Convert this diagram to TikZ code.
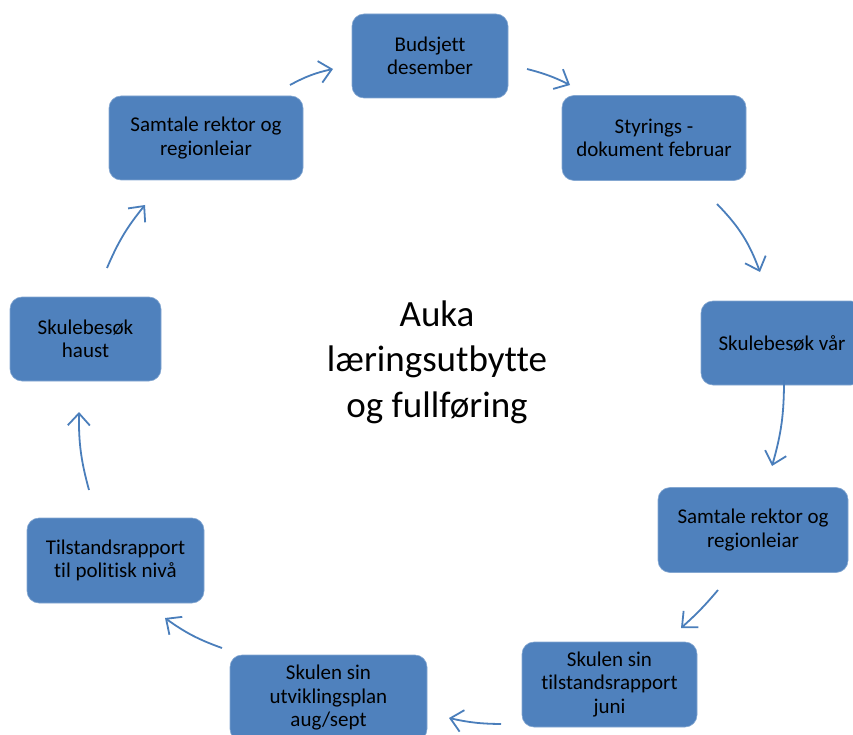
\documentclass[tikz,border=0pt]{standalone}
\usepackage{fontspec}
\setmainfont{Carlito}[Ligatures=NoCommon]
\usetikzlibrary{arrows.meta}
\definecolor{boxblue}{HTML}{4F81BD}
\definecolor{arrblue}{HTML}{4A7EBB}
\tikzset{
  stepbox/.style={draw=boxblue!70!white, line width=0.6pt, fill=boxblue, rounded corners=12pt,
    align=center, inner sep=0pt, font=\fontsize{21}{23.5}\selectfont, text=black},
  cyc/.style={draw=arrblue, line width=1.8pt, -{Straight Barb[length=12pt,width=22pt,line width=1.8pt]}},
}
\begin{document}
\begin{tikzpicture}[x=1pt,y=-1pt]
\useasboundingbox (0,0) rectangle (853,735);
\clip (0,0) rectangle (853,735);
\node[stepbox, minimum width=156pt, minimum height=84pt] (b1) at (430,56) {Budsjett\\desember};
\node[stepbox, minimum width=184pt, minimum height=85pt] (b2) at (654,138) {Styrings -\\dokument februar};
\node[stepbox, minimum width=162pt, minimum height=84pt] (b3) at (782,343) {Skulebesøk vår};
\node[stepbox, minimum width=190pt, minimum height=85pt] (b4) at (753,530) {Samtale rektor og\\regionleiar};
\node[stepbox, minimum width=175pt, minimum height=85pt] (b5) at (609.5,684.5) {Skulen sin\\tilstandsrapport\\juni};
\node[stepbox, minimum width=197pt, minimum height=86pt] (b6) at (328.5,698) {Skulen sin\\utviklingsplan\\aug/sept};
\node[stepbox, minimum width=177pt, minimum height=85pt] (b7) at (115.5,560.5) {Tilstandsrapport\\til politisk nivå};
\node[stepbox, minimum width=151pt, minimum height=84pt] (b8) at (85.5,339) {Skulebesøk\\haust};
\node[stepbox, minimum width=194pt, minimum height=84pt] (b9) at (206,138) {Samtale rektor og\\regionleiar};
\node[align=center, inner sep=0pt, font=\fontsize{37}{45.5}\selectfont] (mid) at (437,362) {Auka\\læringsutbytte\\og fullføring};
\coordinate (a1s) at (290,85);  \coordinate (a1e) at (333,69);
\coordinate (a2s) at (527,69);  \coordinate (a2e) at (570,85);
\coordinate (a3s) at (717,204); \coordinate (a3e) at (760,272);
\coordinate (a4s) at (784,380); \coordinate (a4e) at (772,466);
\coordinate (a5s) at (718,590); \coordinate (a5e) at (681,628);
\coordinate (a6s) at (501,724); \coordinate (a6e) at (449,718);
\coordinate (a7s) at (222,648); \coordinate (a7e) at (165,618);
\coordinate (a8s) at (89,490);  \coordinate (a8e) at (79,412);
\coordinate (a9s) at (107,268); \coordinate (a9e) at (145,205);
\draw[cyc] (a1s) to[bend left=8] (a1e);
\draw[cyc] (a2s) to[bend left=6] (a2e);
\draw[cyc] (a3s) to[bend left=12] (a3e);
\draw[cyc] (a4s) to[bend left=8] (a4e);
\draw[cyc] (a5s) to[bend left=4] (a5e);
\draw[cyc] (a6s) to[bend left=6] (a6e);
\draw[cyc] (a7s) to[bend left=8] (a7e);
\draw[cyc] (a8s) to[bend left=8] (a8e);
\draw[cyc] (a9s) to[bend left=8] (a9e);
\end{tikzpicture}
\end{document}
